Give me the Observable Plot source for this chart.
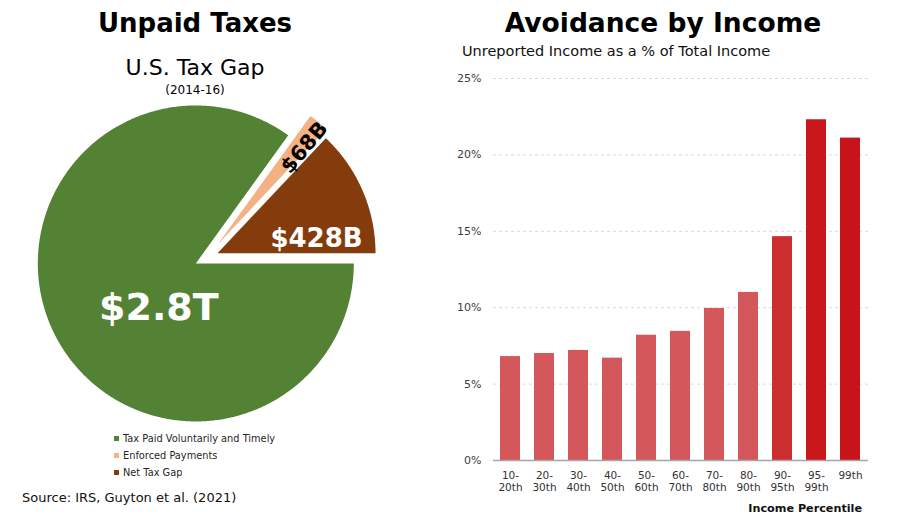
<!DOCTYPE html>
<html>
<head>
<meta charset="utf-8">
<script src="https://cdn.jsdelivr.net/npm/d3@7"></script>
<script src="https://cdn.jsdelivr.net/npm/@observablehq/plot@0.6"></script>
<style>
  body { margin: 0; background: #fff; }
  #wrap { position: relative; width: 900px; height: 523px; overflow: hidden; font-family: "DejaVu Sans", sans-serif; color: #000; }
  .t { position: absolute; line-height: 1; white-space: nowrap; }
  .abs { position: absolute; }
  #legend div { font-family: "DejaVu Sans", sans-serif !important; font-size: 9.8px !important; color: #262626; }
  #legend .lg-swatches { margin: 0 !important; min-height: 0 !important; }
  #legend .lg-swatch { height: 17px; padding-bottom: 0 !important; display: flex; align-items: center; }
  #legend .lg-swatch > svg { margin-right: 4px !important; }
</style>
</head>
<body>
<div id="wrap">
  <div class="t" style="left:0;width:390px;text-align:center;top:10px;font-size:26px;font-weight:bold;">Unpaid Taxes</div>
  <div class="t" style="left:0;width:390px;text-align:center;top:57px;font-size:22px;">U.S. Tax Gap</div>
  <div class="t" style="left:0;width:390px;text-align:center;top:84px;font-size:12px;">(2014-16)</div>
  <div class="t" style="left:463px;width:400px;text-align:center;top:10px;font-size:26.5px;font-weight:bold;">Avoidance by Income</div>
  <div class="t" style="left:462px;top:44px;font-size:14.5px;color:#111;">Unreported Income as a % of Total Income</div>
  <div class="t" style="left:22px;top:491px;font-size:13px;color:#111;">Source: IRS, Guyton et al. (2021)</div>
  <div class="t" style="right:38px;top:503px;font-size:11.2px;font-weight:bold;color:#111;">Income Percentile</div>
  <div id="pie" class="abs" style="left:0;top:0;"></div>
  <div id="legend" class="abs" style="left:114px;top:430px;"></div>
  <div id="bars" class="abs" style="left:440px;top:60px;"></div>
</div>
<script>
// ---------- data ----------
const sliceNames = ["Tax Paid Voluntarily and Timely", "Enforced Payments", "Net Tax Gap"];
const sliceValues = [2800, 68, 428]; // $ billions
const sliceLabels = ["$2.8T", "$68B", "$428B"];

const incomeGroups = ["10-20th", "20-30th", "30-40th", "40-50th", "50-60th", "60-70th", "70-80th", "80-90th", "90-95th", "95-99th", "99th"];
const incomeTickLabels = ["10-\n20th", "20-\n30th", "30-\n40th", "40-\n50th", "50-\n60th", "60-\n70th", "70-\n80th", "80-\n90th", "90-\n95th", "95-\n99th", "99th"];
const unreportedPct = [6.8, 7.0, 7.2, 6.7, 8.2, 8.45, 9.95, 11.0, 14.65, 22.3, 21.1];
const yTicks = [0, 5, 10, 15, 20, 25];

// ---------- style ----------
const sliceColors = ["#548235", "#f4b183", "#843c0c"];
const barColors = ["#d4585b", "#d4585b", "#d4585b", "#d4585b", "#d4585b", "#d4585b", "#d4585b", "#d4585b", "#cc2d2f", "#c8181b", "#c6141a"];
const explode = [0.076, 0.114, 0.076];           // slice offset, fraction of radius
const labelPlace = [{a: 220, r: 0.364}, {a: 41.8, r: 0.82}, {a: 81.8, r: 0.633}];
const labelStyle = [
  {fontSize: 38, fill: "white", rotate: 0},
  {fontSize: 21, fill: "black", rotate: -50},
  {fontSize: 26, fill: "white", rotate: 0}
];
const R = 158, CX = 206, CY = 257.5, PW = 440, PH = 430;

// ---------- pie ----------
const arcs = d3.pie().sort(null).value(d => d)
  .startAngle(Math.PI / 2).endAngle(Math.PI / 2 + 2 * Math.PI)(sliceValues);

const piePts = [];
const labelData = [];
arcs.forEach((p, i) => {
  const m = (p.startAngle + p.endAngle) / 2;
  const ox = explode[i] * Math.sin(m), oy = explode[i] * Math.cos(m);
  const name = sliceNames[i];
  piePts.push({name, x: ox, y: oy});
  const n = Math.max(2, Math.ceil((p.endAngle - p.startAngle) / 0.01));
  for (let k = 0; k <= n; k++) {
    const a = p.startAngle + (p.endAngle - p.startAngle) * k / n;
    piePts.push({name, x: ox + Math.sin(a), y: oy + Math.cos(a)});
  }
  const la = labelPlace[i].a * Math.PI / 180;
  labelData.push({x: ox + labelPlace[i].r * Math.sin(la), y: oy + labelPlace[i].r * Math.cos(la), text: sliceLabels[i], i});
});

const piePlot = Plot.plot({
  width: PW, height: PH,
  marginLeft: 0, marginRight: 0, marginTop: 0, marginBottom: 0,
  style: {fontFamily: "DejaVu Sans, sans-serif", background: "transparent", overflow: "visible"},
  x: {domain: [-CX / R, (PW - CX) / R], axis: null},
  y: {domain: [-(PH - CY) / R, CY / R], axis: null},
  color: {domain: sliceNames, range: sliceColors},
  marks: [
    Plot.line(piePts, {x: "x", y: "y", z: "name", fill: "name", stroke: "none", curve: "linear-closed"}),
    ...labelData.map(d => Plot.text([d], {
      x: "x", y: "y", text: "text", fontWeight: "bold",
      fontSize: labelStyle[d.i].fontSize, fill: labelStyle[d.i].fill, rotate: labelStyle[d.i].rotate
    }))
  ]
});
document.getElementById("pie").appendChild(piePlot);

const lg = Plot.legend({
  color: {domain: sliceNames, range: sliceColors},
  legend: "swatches", columns: 1, swatchSize: 5, className: "lg"
});
document.getElementById("legend").appendChild(lg);

// ---------- bars ----------
const barData = incomeGroups.map((g, i) => ({group: g, pct: unreportedPct[i]}));

const barPlot = Plot.plot({
  width: 460, height: 463,
  marginLeft: 53, marginRight: 32, marginTop: 18, marginBottom: 63,
  style: {fontFamily: "DejaVu Sans, sans-serif", fontSize: "11px", color: "#404040", background: "transparent"},
  x: {domain: incomeGroups, paddingInner: 0.41, paddingOuter: 0.205, axis: null},
  y: {domain: [0, 25], ticks: yTicks, tickFormat: d => d + "%", tickSize: 0, tickPadding: 12, label: null},
  color: {domain: incomeGroups, range: barColors},
  marks: [
    Plot.ruleY(yTicks.filter(t => t > 0), {stroke: "#d9d9d9", strokeDasharray: "3,3"}),
    Plot.barY(barData, {x: "group", y: "pct", fill: "group"}),
    Plot.ruleY([0], {stroke: "#a6a6a6", strokeWidth: 1.5}),
    Plot.text(incomeGroups, {
      x: d => d, text: (d, i) => incomeTickLabels[i], frameAnchor: "bottom",
      lineAnchor: "top", dy: 10, lineHeight: 1.15, fontSize: 10.5, fill: "#333"
    })
  ]
});
document.getElementById("bars").appendChild(barPlot);
</script>
</body>
</html>
